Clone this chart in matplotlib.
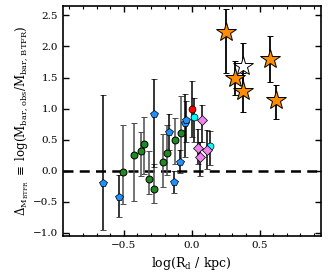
import numpy as np
import matplotlib
matplotlib.use('Agg')
import matplotlib.pyplot as plt

plt.rcParams['font.family'] = 'DejaVu Serif'
plt.rcParams['mathtext.fontset'] = 'dejavuserif'

# blue pentagons
blue_x = [-0.653, -0.535, -0.28, -0.167, -0.13, -0.086, -0.05, -0.04]
blue_y = [-0.20, -0.43, 0.91, 0.63, -0.18, 0.14, 0.77, 0.82]
blue_lo = [0.75, 0.31, 0.85, 0.30, 0.18, 0.18, 0.55, 0.35]
blue_hi = [1.42, 0.36, 0.57, 0.29, 0.18, 0.20, 0.47, 0.30]

# green circles
green_x = [-0.505, -0.424, -0.375, -0.355, -0.314, -0.277, -0.215, -0.184, -0.123, -0.076]
green_y = [-0.02, 0.25, 0.31, 0.43, -0.13, -0.30, 0.135, 0.28, 0.50, 0.61]
green_lo = [0.51, 0.73, 0.40, 0.48, 0.24, 0.22, 0.40, 0.35, 0.40, 0.45]
green_hi = [0.75, 0.52, 0.32, 0.44, 0.45, 0.40, 0.45, 0.45, 0.35, 0.60]

# red / cyan circles
red_x, red_y, red_lo, red_hi = [0.005], [0.99], [0.45], [0.45]
cyan_x = [0.017, 0.132]
cyan_y = [0.865, 0.39]
cyan_lo = [0.40, 0.30]
cyan_hi = [0.30, 0.25]

# violet diamonds
dia_x = [0.074, 0.046, 0.11, 0.059]
dia_y = [0.81, 0.365, 0.33, 0.215]
dia_lo = [0.35, 0.25, 0.30, 0.30]
dia_hi = [0.25, 0.30, 0.32, 0.25]

# orange stars
star_x = [0.255, 0.316, 0.377, 0.574, 0.618]
star_y = [2.23, 1.49, 1.28, 1.80, 1.14]
star_lo = [0.65, 0.27, 0.34, 0.38, 0.31]
star_hi = [0.37, 0.27, 0.30, 0.36, 0.24]

# open star
wstar_x, wstar_y, wstar_lo, wstar_hi = [0.38], [1.68], [0.38], [0.38]

fig = plt.figure(figsize=(3.3, 2.75), dpi=100)
ax = fig.add_axes([0.19, 0.142, 0.782, 0.836])

ax.axhline(0, color='k', ls=(0, (4, 2.5)), lw=1.8, zorder=1)

ax.errorbar(green_x, green_y, yerr=[green_lo, green_hi], fmt='o', ms=5,
            mfc='#1f8a1f', mec='k', mew=0.7, ecolor='0.3', elinewidth=1.1,
            capsize=2.2, capthick=0.9, zorder=3)
ax.errorbar(blue_x, blue_y, yerr=[blue_lo, blue_hi], fmt='p', ms=5.5,
            mfc='#1e90ff', mec='k', mew=0.5, ecolor='k', elinewidth=1.1,
            capsize=2.2, capthick=0.9, zorder=3)
ax.errorbar(red_x, red_y, yerr=[red_lo, red_hi], fmt='o', ms=5,
            mfc='red', mec='k', mew=0.5, ecolor='k', elinewidth=1.1,
            capsize=2.2, capthick=0.9, zorder=3)
ax.errorbar(cyan_x, cyan_y, yerr=[cyan_lo, cyan_hi], fmt='o', ms=5,
            mfc='cyan', mec='k', mew=0.5, ecolor='k', elinewidth=1.1,
            capsize=2.2, capthick=0.9, zorder=3)
ax.errorbar(dia_x, dia_y, yerr=[dia_lo, dia_hi], fmt='D', ms=5,
            mfc='violet', mec='k', mew=0.5, ecolor='k', elinewidth=1.1,
            capsize=2.2, capthick=0.9, zorder=4)
ax.errorbar(star_x, star_y, yerr=[star_lo, star_hi], fmt='*', ms=15,
            mfc='darkorange', mec='k', mew=0.7, ecolor='k', elinewidth=1.3,
            capsize=2.5, capthick=1.0, zorder=4)
ax.errorbar(wstar_x, wstar_y, yerr=[wstar_lo, wstar_hi], fmt='*', ms=15,
            mfc='white', mec='k', mew=0.7, ecolor='k', elinewidth=1.3,
            capsize=2.5, capthick=1.0, zorder=3)

ax.set_xlim(-0.95, 0.95)
ax.set_ylim(-1.05, 2.65)
ax.set_xticks([-0.5, 0.0, 0.5])
ax.set_xticks(np.arange(-0.9, 0.95, 0.1), minor=True)
ax.set_yticks([-1.0, -0.5, 0.0, 0.5, 1.0, 1.5, 2.0, 2.5])
ax.tick_params(direction='in', top=True, right=True, labelsize=7.5,
               length=4, width=1.0)
ax.tick_params(which='minor', direction='in', top=True, right=True,
               length=2.5, width=0.8)
for s in ax.spines.values():
    s.set_linewidth(1.2)

ax.set_xlabel(r'$\log(\rm R_d\ /\ kpc)$', fontsize=9)
ax.set_ylabel(r'$\Delta_{\rm M_{BTFR}}\ \equiv\ \log(\rm M_{bar,\,obs}/M_{bar,\,BTFR})$',
              fontsize=8.5, labelpad=2)

fig.savefig('out.png', dpi=100)
